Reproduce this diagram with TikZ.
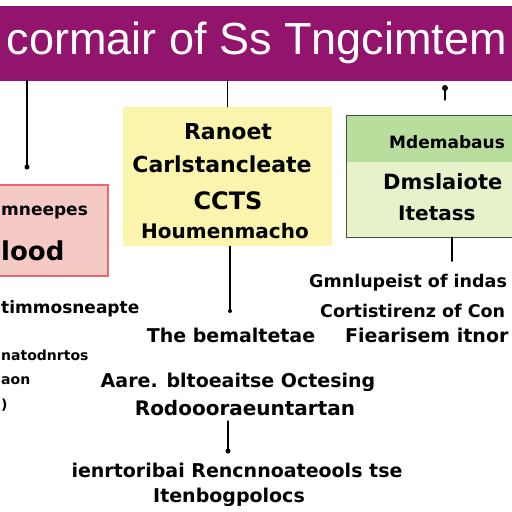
\documentclass[tikz,border=0pt]{standalone}
\usepackage{fontspec}
\setmainfont{Liberation Sans}
\newfontfamily\bodyfont{DejaVu Sans}
\usetikzlibrary{calc}

\definecolor{titlepurple}{RGB}{147,20,108}
\definecolor{pinkfill}{RGB}{246,202,196}
\definecolor{pinkline}{RGB}{236,104,112}
\definecolor{yellowfill}{RGB}{250,244,172}
\definecolor{greentop}{RGB}{184,222,158}
\definecolor{greenlow}{RGB}{229,242,202}
\definecolor{greenline}{RGB}{70,84,70}

\begin{document}
\begin{tikzpicture}[
  x={(1pt,0pt)},
  y={(0pt,-1pt)},
  line cap=round,
  link/.style={black, line width=1.2pt},
  enddot/.style={circle, fill=black, inner sep=0pt, minimum size=5pt},
  boxtext/.style={font=\bodyfont\fontsize{20}{24}\selectfont\bfseries, inner sep=0pt},
  plain/.style={font=\bodyfont\fontsize{19}{22}\selectfont\bfseries, inner sep=0pt},
  small/.style={font=\bodyfont\fontsize{14}{17}\selectfont\bfseries, inner sep=0pt, anchor=west},
]

% page: 512 x 512
\useasboundingbox (0,0) rectangle (512,512);
\clip (0,0) rectangle (512,512);
\fill[white] (0,0) rectangle (512,512);

% title band
\node[fill=titlepurple, text=white, minimum width=520pt, minimum height=75pt,
      inner sep=0pt, font=\fontsize{45}{50}\selectfont] (title) at (257,43)
  {cormair of Ss Tngcimtem};

% boxes
\node[draw=pinkline, fill=pinkfill, line width=1.2pt, minimum width=124pt,
      minimum height=91pt] (pinkbox) at (46,230.5) {};
\node[fill=yellowfill, minimum width=209pt, minimum height=139pt] (ybox) at (227.5,176.5) {};
\fill[greentop] (346,115) rectangle (520,162);
\fill[greenlow] (346,162) rectangle (520,237);
\node[draw=greenline, line width=1pt, minimum width=174pt, minimum height=122pt] (gbox) at (433,176) {};

% texts in the pink box
\node[boxtext, font=\bodyfont\fontsize{17}{20}\selectfont\bfseries, anchor=west] (pk1) at (1,213) {mneepes};
\node[boxtext, font=\bodyfont\fontsize{26}{30}\selectfont\bfseries, anchor=west] (pk2) at (1,251) {lood};

% texts in the yellow box
\node[boxtext, font=\bodyfont\fontsize{22}{26}\selectfont\bfseries] (y1) at (228,132) {Ranoet};
\node[boxtext, font=\bodyfont\fontsize{22}{26}\selectfont\bfseries] (y2) at (222,164) {Carlstancleate};
\node[boxtext, font=\bodyfont\fontsize{24}{28}\selectfont\bfseries] (y3) at (228,201) {CCTS};
\node[boxtext] (y4) at (225,231) {Houmenmacho};

% texts in the green box
\node[boxtext, font=\bodyfont\fontsize{17}{20}\selectfont\bfseries, anchor=west] (g1) at (389,142) {Mdemabaus};
\node[boxtext, font=\bodyfont\fontsize{21}{24}\selectfont\bfseries, anchor=west] (g2) at (383,182) {Dmslaiote};
\node[boxtext, anchor=west] (g3) at (398,213) {Itetass};

% texts below
\node[plain, font=\bodyfont\fontsize{17}{20}\selectfont\bfseries, anchor=west] (l1) at (1,309) {timmosneapte};
\node[small] (l2) at (1,355) {natodnrtos};
\node[small] (l3) at (1,381) {aon};
\node[small] (l4) at (1,405) {)};

\node[plain] (m1) at (231,335) {The bemaltetae};
\node[plain, font=\bodyfont\fontsize{17.5}{21}\selectfont\bfseries, anchor=west] (r1) at (309,283) {Gmnlupeist of indas};
\node[plain, font=\bodyfont\fontsize{17.5}{21}\selectfont\bfseries, anchor=west] (r2) at (320,311) {Cortistirenz of Con};
\node[plain, anchor=west] (r3) at (345,335) {Fiearisem itnor};

\node[plain] (m2) at (238,382) {Aare. bltoeaitse Octesing};
\node[plain, font=\bodyfont\fontsize{20}{23}\selectfont\bfseries] (m3) at (245,408) {Rodoooraeuntartan};

\node[plain] (b1) at (237,470) {ienrtoribai Rencnnoateools tse};
\node[plain] (b2) at (229,497) {Itenbogpolocs};

% end points of the links
\coordinate (d1) at (27,167);
\coordinate (d2) at (445,88);
\coordinate (d3) at (230,311);
\coordinate (d4) at (452,261);
\coordinate (d5) at (228,451);
\coordinate (d6) at (228,421);

% links
\draw[link] (title.south -| d1) -- (d1);
\node[enddot] at (d1) {};
\draw[link] (title.south -| ybox.north) -- (ybox.north);
\draw[link] (d2) -- ++(0,12);
\node[enddot, minimum size=6pt] at (d2) {};
\draw[link] (ybox.south -| d3) -- (d3);
\node[enddot, minimum size=4pt] at (d3) {};
\draw[link, line width=2pt] (gbox.south -| d4) -- (d4);
\draw[link] (d6) -- (d5);
\node[enddot] at (d5) {};

\end{tikzpicture}
\end{document}
